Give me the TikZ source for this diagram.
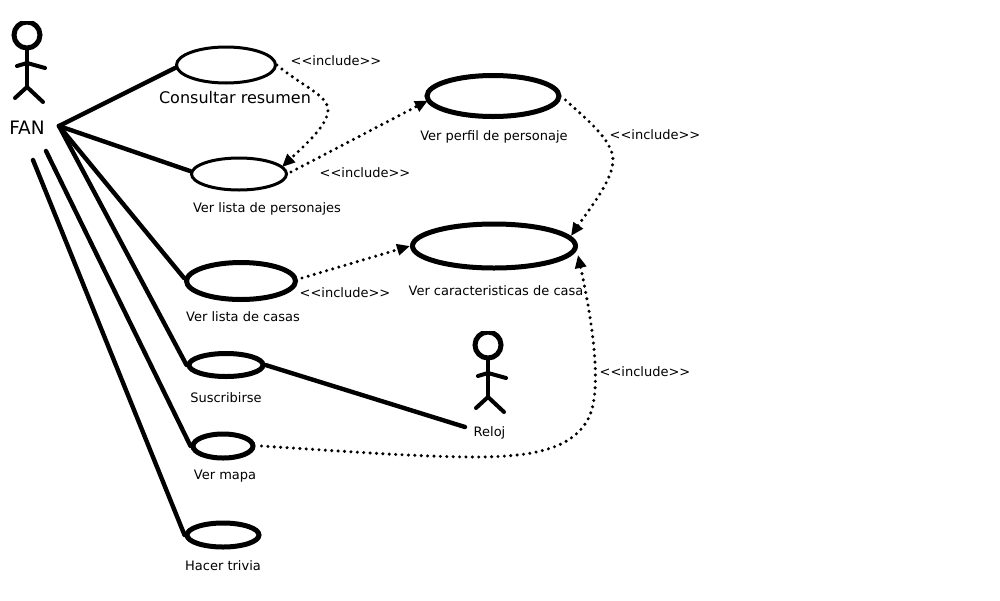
\documentclass[tikz,border=0pt]{standalone}
\usepackage{fontspec}
\setmainfont{DejaVu Sans}
\usetikzlibrary{shapes.geometric,arrows.meta}
\tikzset{
  usecase/.style={ellipse,draw=black,fill=white,inner sep=0pt},
  thin case/.style={usecase,line width=3pt},
  thick case/.style={usecase,line width=5pt},
  assoc/.style={line width=4.4pt,line cap=round},
  incl/.style={line width=3.4pt,line cap=round,dash pattern=on 0pt off 6.4pt,-{Triangle[length=13pt,width=11pt]}},
  lab/.style={inner sep=0pt,font=\fontsize{13pt}{15pt}\selectfont,text=black},
  biglab/.style={inner sep=0pt,font=\fontsize{16pt}{18pt}\selectfont,text=black},
  fanlab/.style={inner sep=0pt,font=\fontsize{18.5pt}{20pt}\selectfont,text=black},
  limb/.style={line width=4pt,line cap=round},
}
\newcommand{\stickman}[3]{%
  \begin{scope}[shift={(#1,#2)}]
    \begin{scope}
      \clip (-18,-14) rectangle (18,18);
      \node[circle,draw=black,line width=5pt,minimum size=26pt,inner sep=0pt] (#3head) at (0,0) {};
    \end{scope}
    \coordinate (#3neck) at (0,14);
    \coordinate (#3hip) at (0,52);
    \coordinate (#3sh) at (0,28);
    \coordinate (#3la) at (-10,31);
    \coordinate (#3ra) at (18,33);
    \coordinate (#3lf) at (-12,63);
    \coordinate (#3rf) at (16,67);
    \draw[limb] (#3neck) -- (#3hip);
    \draw[limb] (#3la) -- (#3sh) -- (#3ra);
    \draw[limb] (#3lf) -- (#3hip) -- (#3rf);
  \end{scope}}
\begin{document}
\begin{tikzpicture}[x=1pt,y=-1pt]
\useasboundingbox (0,0) rectangle (1000,600);

\stickman{27}{35}{fan}
\stickman{488}{345}{reloj}

\node[thin case,minimum width=99pt,minimum height=36pt] (consultar) at (226,65) {};
\node[thin case,minimum width=95pt,minimum height=32pt] (personajes) at (239,174) {};
\node[thick case,minimum width=132pt,minimum height=41pt] (perfil) at (493,96) {};
\node[thick case,minimum width=163pt,minimum height=44pt] (caract) at (494,246) {};
\node[thick case,minimum width=109pt,minimum height=37pt] (casas) at (241,281) {};
\node[thick case,minimum width=74pt,minimum height=23pt] (suscr) at (226,365) {};
\node[thick case,minimum width=60pt,minimum height=24pt] (mapa) at (223,446) {};
\node[thick case,minimum width=72pt,minimum height=24pt] (trivia) at (223,535) {};

\node[fanlab] (lfan) at (27,128) {FAN};
\node[biglab] (lcons) at (235,98) {Consultar resumen};
\node[lab] (lpers) at (267,209) {Ver lista de personajes};
\node[lab] (lperf) at (494,137) {Ver perfil de personaje};
\node[lab] (lcar) at (496,291) {Ver caracteristicas de casa};
\node[lab] (lcas) at (243,317) {Ver lista de casas};
\node[lab] (lsus) at (226,398) {Suscribirse};
\node[lab] (lrel) at (489.5,433) {Reloj};
\node[lab] (lmap) at (225,476) {Ver mapa};
\node[lab] (ltri) at (223,566) {Hacer trivia};
\node[lab] (i1) at (336,60.5) {<{}<include>{}>};
\node[lab] (i2) at (365,172.5) {<{}<include>{}>};
\node[lab] (i3) at (655,134.5) {<{}<include>{}>};
\node[lab] (i4) at (345,292.5) {<{}<include>{}>};
\node[lab] (i5) at (645,371.5) {<{}<include>{}>};

\coordinate (fanA) at (59,126);
\coordinate (fanB) at (46,151);
\coordinate (fanC) at (33,160);
\coordinate (relojEnd) at (465,427);
\coordinate (persTip) at (282,167);
\coordinate (carTip) at (571,236);
\coordinate (carLow) at (578,255);
\coordinate (perfIn) at (428,100.5);

\draw[assoc] (fanA) -- (consultar.west |- 0,68);
\draw[assoc] (fanA) -- (personajes.west |- 0,171);
\draw[assoc] (fanA) -- (casas.west |- 0,278);
\draw[assoc] (fanA) -- (suscr.west);
\draw[assoc] (fanB) -- (mapa.west);
\draw[assoc] (fanC) -- (trivia.west);
\draw[assoc] (suscr.east) -- (relojEnd);

\draw[incl] (consultar.east) .. controls (300,85) and (328,95) .. (328,110) .. controls (328,125) and (305,145) .. (persTip);
\draw[incl] (personajes.east) ++(3,-2) -- (perfIn);
\draw[incl] (perfil.east) ++(4,4) .. controls (585,118) and (613,140) .. (613,160) .. controls (613,180) and (590,208) .. (carTip);
\draw[incl] (casas.east) ++(4,-3) -- (caract.west);
\draw[incl] (mapa.east) ++(6,0) .. controls (340,451) and (420,457) .. (475,457) .. controls (530,457) and (575,450) .. (590,415) .. controls (602,385) and (592,320) .. (carLow);
\end{tikzpicture}
\end{document}
